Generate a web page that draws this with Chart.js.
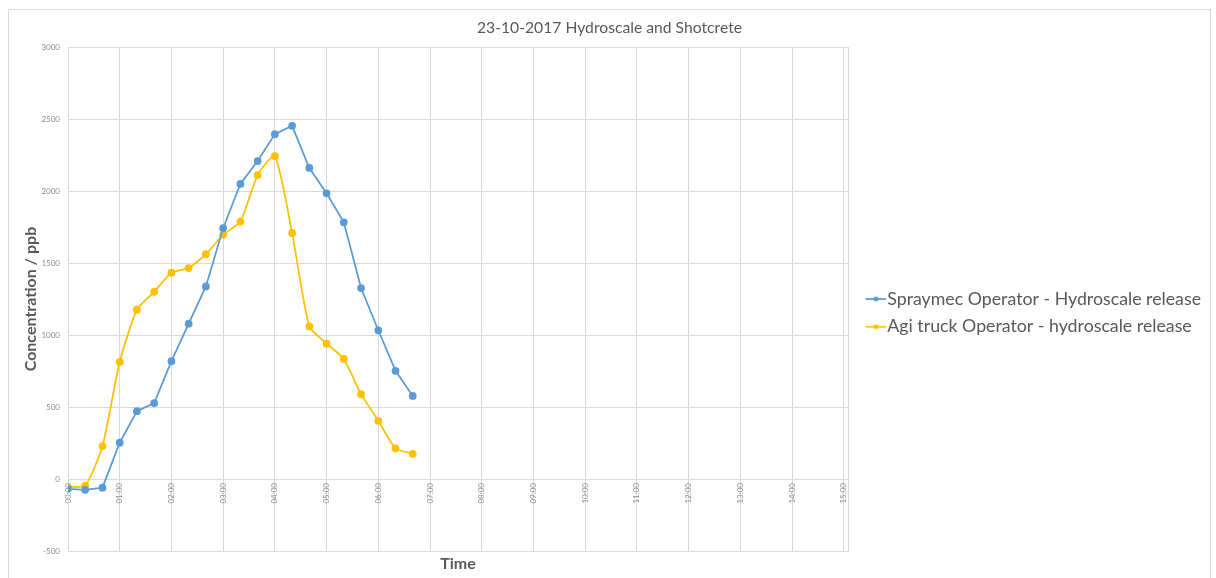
<!DOCTYPE html>
<html>
<head>
<meta charset="utf-8">
<title>23-10-2017 Hydroscale and Shotcrete</title>
<script src="https://cdn.jsdelivr.net/npm/chart.js@4.4.1/dist/chart.umd.min.js"></script>
<style>
  html, body { margin: 0; padding: 0; background: #ffffff; }
  #wrap { width: 1216px; height: 578px; position: relative; }
</style>
</head>
<body>
<div id="wrap"><canvas id="chart" width="1216" height="578"></canvas></div>
<script>
// Sampling times, minutes after the start of the release
const sampleMinutes = [0, 20, 40, 60, 80, 100, 120, 140, 160, 180, 200, 220, 240, 260, 280, 300, 320, 340, 360, 380, 400];

// Measured concentrations, ppb
const spraymecPpb = [-68, -75, -60, 252, 471, 527, 818, 1079, 1337, 1742, 2049, 2208, 2395, 2453, 2160, 1984, 1783, 1326, 1033, 751, 577];
const agiTruckPpb = [-55, -46, 229, 813, 1176, 1300, 1433, 1465, 1561, 1696, 1788, 2111, 2243, 1709, 1060, 940, 834, 589, 404, 213, 175];

// Hour labels along the time axis
const hourLabels = ['00:00', '01:00', '02:00', '03:00', '04:00', '05:00', '06:00', '07:00',
                    '08:00', '09:00', '10:00', '11:00', '12:00', '13:00', '14:00', '15:00'];

const seriesNames = ['Spraymec Operator - Hydroscale release', 'Agi truck Operator - hydroscale release'];
const seriesColors = ['#5B9BD5', '#FFC000'];

const toPoints = (values) => values.map((v, i) => ({ x: sampleMinutes[i], y: v }));

const GRID = '#d9d9d9';
const FONT = 'Lato, "Open Sans", sans-serif';
const X_MAX = 905;

// Legend swatch: a short line segment with a marker dot in the middle
function lineMarkerSwatch(color) {
  const c = document.createElement('canvas');
  c.width = 30;
  c.height = 8;
  const g = c.getContext('2d');
  g.strokeStyle = color;
  g.lineWidth = 1.75;
  g.beginPath();
  g.moveTo(9, 4);
  g.lineTo(30, 4);
  g.stroke();
  g.fillStyle = color;
  g.beginPath();
  g.arc(19.5, 4, 2.5, 0, Math.PI * 2);
  g.fill();
  return c;
}

// Outer frame of the chart object
const framePlugin = {
  id: 'frame',
  beforeDraw(chart) {
    const ctx = chart.ctx;
    ctx.save();
    ctx.fillStyle = '#ffffff';
    ctx.fillRect(0, 0, chart.width, chart.height);
    ctx.strokeStyle = '#d9d9d9';
    ctx.lineWidth = 1;
    ctx.strokeRect(8.5, 9.5, 1202, 600);
    ctx.restore();
  }
};

Chart.defaults.font.family = FONT;

new Chart(document.getElementById('chart'), {
  type: 'line',
  data: {
    datasets: [
      {
        label: seriesNames[0],
        data: toPoints(spraymecPpb),
        borderColor: seriesColors[0],
        backgroundColor: seriesColors[0],
        borderWidth: 1.75,
        pointRadius: 3,
        pointHoverRadius: 3,
        pointBackgroundColor: seriesColors[0],
        pointBorderColor: seriesColors[0],
        tension: 0,
        xAxisID: 'x',
        yAxisID: 'y'
      },
      {
        label: seriesNames[1],
        data: toPoints(agiTruckPpb),
        borderColor: seriesColors[1],
        backgroundColor: seriesColors[1],
        borderWidth: 1.75,
        pointRadius: 3,
        pointHoverRadius: 3,
        pointBackgroundColor: seriesColors[1],
        pointBorderColor: seriesColors[1],
        tension: 0.2,
        xAxisID: 'x',
        yAxisID: 'y'
      }
    ]
  },
  options: {
    responsive: false,
    animation: false,
    devicePixelRatio: 1,
    layout: { padding: { left: 8, right: 5, top: 9, bottom: 0 } },
    scales: {
      x: {
        type: 'linear',
        position: 'bottom',
        min: 0,
        max: X_MAX,
        ticks: { display: false, stepSize: 60, includeBounds: false },
        grid: { color: GRID, lineWidth: 1, drawTicks: false },
        border: { display: false },
        title: {
          display: true,
          text: 'Time',
          color: '#595959',
          font: { size: 16, weight: 'bold' },
          padding: { top: 0, bottom: 5 }
        },
        afterFit(scale) { scale.height = 27; }
      },
      xHours: {
        type: 'linear',
        position: { y: 0 },
        min: 0,
        max: X_MAX,
        grid: { display: false, drawTicks: false },
        border: { display: false },
        ticks: {
          stepSize: 60,
          includeBounds: false,
          autoSkip: false,
          minRotation: 90,
          maxRotation: 90,
          padding: 4,
          color: '#8c8c8c',
          font: { size: 8 },
          callback: (v) => hourLabels[Math.round(v / 60)]
        }
      },
      y: {
        type: 'linear',
        position: 'left',
        min: -500,
        max: 3000,
        ticks: {
          stepSize: 500,
          padding: 8,
          color: '#8c8c8c',
          font: { size: 8 },
          callback: (v) => String(v)
        },
        grid: { color: GRID, lineWidth: 1, drawTicks: false },
        border: { display: true, color: GRID },
        title: {
          display: true,
          text: 'Concentration / ppb',
          color: '#595959',
          font: { size: 16, weight: 'bold' },
          padding: { top: 13, bottom: 0 }
        },
        afterFit(scale) { scale.width = 60; }
      },
      yEdge: {
        type: 'linear',
        position: 'right',
        min: -500,
        max: 3000,
        ticks: { display: false },
        grid: { display: false, drawTicks: false },
        border: { display: true, color: GRID },
        afterFit(scale) { scale.width = 6.4; }
      }
    },
    plugins: {
      title: {
        display: true,
        text: '23-10-2017 Hydroscale and Shotcrete',
        color: '#595959',
        font: { size: 15.7, weight: 'normal' },
        padding: { top: 10, bottom: 9.2 }
      },
      legend: {
        display: true,
        position: 'right',
        align: 'center',
        maxWidth: 420,
        title: { display: true, text: '', font: { size: 10, lineHeight: 1 }, padding: { top: 28.75, bottom: 0 } },
        labels: {
          color: '#595959',
          font: { size: 17.75 },
          usePointStyle: true,
          pointStyleWidth: 14,
          boxWidth: 14,
          boxHeight: 2,
          padding: 10,
          generateLabels(chart) {
            const items = Chart.defaults.plugins.legend.labels.generateLabels(chart);
            items.forEach((it, i) => {
              it.lineWidth = 0;
              it.pointStyle = lineMarkerSwatch(seriesColors[i]);
            });
            return items;
          }
        }
      },
      tooltip: { enabled: false }
    }
  },
  plugins: [framePlugin]
});
</script>
</body>
</html>
